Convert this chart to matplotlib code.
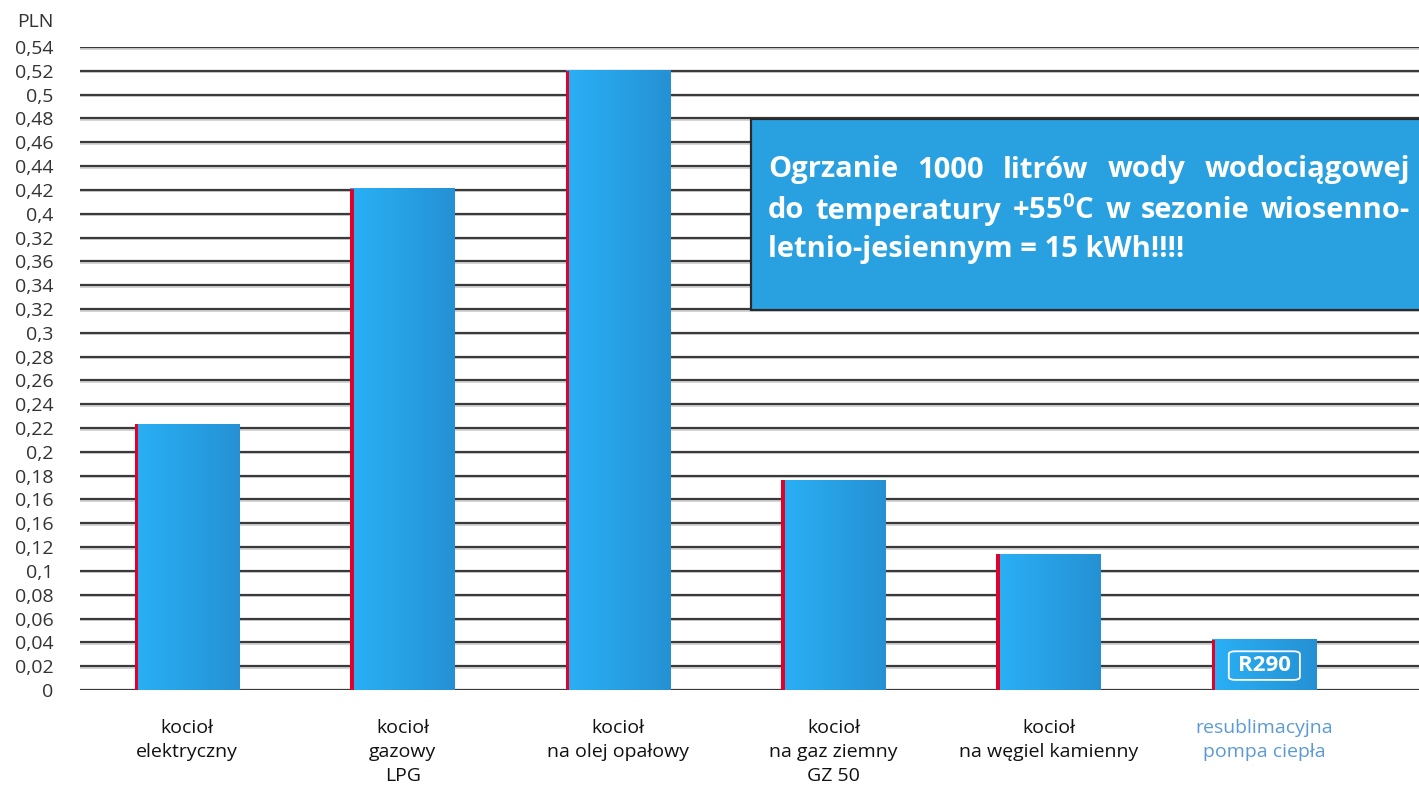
import matplotlib
matplotlib.use('Agg')
import matplotlib.pyplot as plt
from matplotlib.patches import Rectangle, FancyBboxPatch
import numpy as np

# data
categories = ['kocioł\nelektryczny', 'kocioł\ngazowy\nLPG', 'kocioł\nna olej opałowy',
              'kocioł\nna gaz ziemny\nGZ 50', 'kocioł\nna węgiel kamienny',
              'resublimacyjna\npompa ciepła']
values = [0.223, 0.421, 0.520, 0.176, 0.114, 0.042]
yticks = np.arange(0, 0.541, 0.02)
# tick labels exactly as printed on the original (incl. its typos)
ytick_labels = ['0', '0,02', '0,04', '0,06', '0,08', '0,1', '0,12', '0,16', '0,16', '0,18',
                '0,2', '0,22', '0,24', '0,26', '0,28', '0,3', '0,32', '0,34', '0,36', '0,32',
                '0,4', '0,42', '0,44', '0,46', '0,48', '0,5', '0,52', '0,54']
note_lines = [['Ogrzanie', '1000', 'litrów', 'wody', 'wodociągowej'],
              ['do', 'temperatury', r'+55$^{\mathbf{0}}$C', 'w', 'sezonie', 'wiosenno-'],
              ['letnio-jesiennym = 15 kWh!!!!']]

plt.rcParams['font.family'] = ['Open Sans', 'DejaVu Sans']
plt.rcParams['mathtext.fontset'] = 'custom'
plt.rcParams['mathtext.bf'] = 'Open Sans:bold'
plt.rcParams['mathtext.rm'] = 'Open Sans'

W, H = 1419, 791
fig = plt.figure(figsize=(W / 100, H / 100), dpi=100)
ax = fig.add_axes([80 / W, (H - 690) / H, (W - 80) / W, (690 - 47) / H])

bar_w = 0.487
x = np.arange(len(values))

# grid lines (dark line with a light shadow under it)
for yv in yticks:
    ax.axhline(yv - 0.0013, color='#cccccc', lw=1.2, zorder=1)
    ax.axhline(yv, color='#3a3a3a', lw=1.6, zorder=1.5)

# gradient bars
grad = np.linspace(0, 1, 256)[None, :]
c_left = np.array([0x2a, 0xb0, 0xf6]) / 255
c_right = np.array([0x25, 0x91, 0xd4]) / 255
img = c_left[None, None, :] * (1 - grad[..., None]) + c_right[None, None, :] * grad[..., None]
for xi, v in zip(x, values):
    ax.add_patch(Rectangle((xi - bar_w / 2, 0), bar_w, v, facecolor='#2aa5ea',
                           edgecolor='none', zorder=2))
    ax.imshow(img, extent=[xi - bar_w / 2, xi + bar_w / 2, 0, v], aspect='auto',
              interpolation='bilinear', zorder=3)
    ax.add_patch(Rectangle((xi - bar_w / 2, 0), 0.016, v, facecolor='#e3002b',
                           edgecolor='none', zorder=4))
ax.set_xlim(-0.498, 5.718)
ax.set_ylim(0, 0.54)

ax.set_yticks(yticks)
ax.set_yticklabels(ytick_labels, fontsize=14, color='#333333')
ax.tick_params(axis='y', length=0, pad=19)
ax.set_xticks(x)
ax.set_xticklabels([])
ax.tick_params(axis='x', length=0)
for s in ax.spines.values():
    s.set_visible(False)

for i, (xi, lab) in enumerate(zip(x, categories)):
    col = '#5b9ad6' if i == 5 else '#111111'
    ax.text(xi, -0.024, lab, ha='center', va='top', fontsize=14, color=col,
            linespacing=1.45, clip_on=False)

fig.text(35 / W, 1 - 22 / H, 'PLN', ha='center', va='center', fontsize=14, color='#333333')

# R290 badge
ax.add_patch(FancyBboxPatch((5 - 0.165, 0.0085), 0.33, 0.024,
                            boxstyle='round,pad=0,rounding_size=0.03',
                            mutation_aspect=0.08, facecolor='none',
                            edgecolor='white', lw=1.3, zorder=5))
ax.text(5, 0.0205, 'R290', ha='center', va='center', fontsize=16, fontweight='bold',
        color='white', zorder=6)

# info box
fig.patches.append(Rectangle((751 / W, 1 - 310 / H), (W - 751 + 10) / W, (310 - 119) / H,
                             transform=fig.transFigure, facecolor='#29a1e1',
                             edgecolor='#2b2b2b', lw=1.6, zorder=10))

renderer = fig.canvas.get_renderer()
left_px, right_px = 768, 1410
line_y = [170, 211, 249]
for li, words in enumerate(note_lines):
    ypos = 1 - line_y[li] / H
    texts = [fig.text(0, ypos, w, ha='left', va='center', fontsize=21, fontweight='bold',
                      color='white', zorder=11) for w in words]
    widths = [t.get_window_extent(renderer).width for t in texts]
    gap = (right_px - left_px - sum(widths)) / (len(words) - 1) if len(words) > 1 else 0
    xpos = left_px
    for t, wd in zip(texts, widths):
        t.set_x(xpos / W)
        xpos += wd + gap

fig.savefig('out.png', dpi=100)
